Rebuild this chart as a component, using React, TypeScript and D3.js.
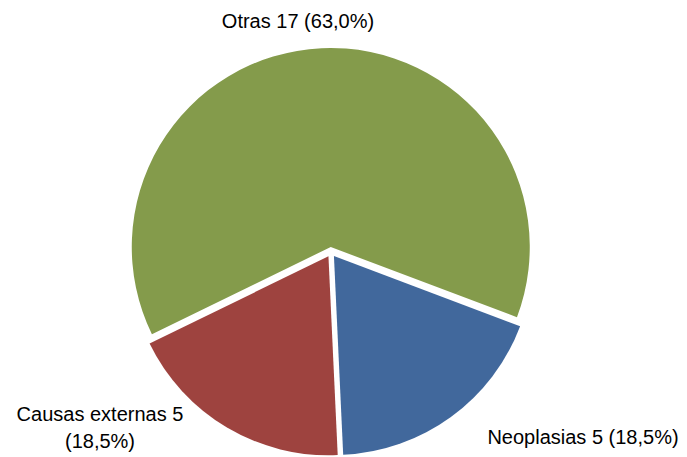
import React, { useEffect, useRef } from 'react';
import * as d3 from 'd3';

const categories = ['Otras', 'Neoplasias', 'Causas externas'];
const counts = [17, 5, 5];
const percents = ['63,0%', '18,5%', '18,5%'];
const colors = ['#849B4B', '#41689C', '#9E433F'];

const W = 687;
const H = 457;

const App = () => {
  const ref = useRef<SVGSVGElement>(null);

  useEffect(() => {
    const svg = d3.select(ref.current);
    svg.selectAll('*').remove();

    const cx = 331;
    const cy = 252;
    const radius = 199;
    const explode = 5;
    const start = (244 * Math.PI) / 180;

    const pie = d3.pie<number>().sort(null).startAngle(start).endAngle(start + 2 * Math.PI);
    const arcs = pie(counts);
    const arc = d3.arc<d3.PieArcDatum<number>>().innerRadius(0).outerRadius(radius);

    const g = svg.append('g').attr('transform', `translate(${cx},${cy})`);
    g.selectAll('path')
      .data(arcs)
      .enter()
      .append('path')
      .attr('d', arc)
      .attr('fill', (d, i) => colors[i])
      .attr('transform', (d) => {
        const mid = (d.startAngle + d.endAngle) / 2;
        return `translate(${Math.sin(mid) * explode},${-Math.cos(mid) * explode})`;
      });

    // labels, as in the original: category, count, percent
    const font = "'Liberation Sans', Arial, sans-serif";
    const lab = svg.append('g').attr('font-family', font).attr('font-size', 20).attr('fill', '#000');

    lab.append('text').attr('x', 298).attr('y', 28).attr('text-anchor', 'middle')
      .text(`${categories[0]} ${counts[0]} (${percents[0]})`);

    lab.append('text').attr('x', 583).attr('y', 444).attr('text-anchor', 'middle')
      .text(`${categories[1]} ${counts[1]} (${percents[1]})`);

    lab.append('text').attr('x', 100).attr('y', 421).attr('text-anchor', 'middle')
      .text(`${categories[2]} ${counts[2]}`);
    lab.append('text').attr('x', 100).attr('y', 448).attr('text-anchor', 'middle')
      .text(`(${percents[2]})`);
  }, []);

  return (
    <svg ref={ref} width={W} height={H} style={{ position: 'absolute', left: 0, top: 0 }} />
  );
};

export default App;
